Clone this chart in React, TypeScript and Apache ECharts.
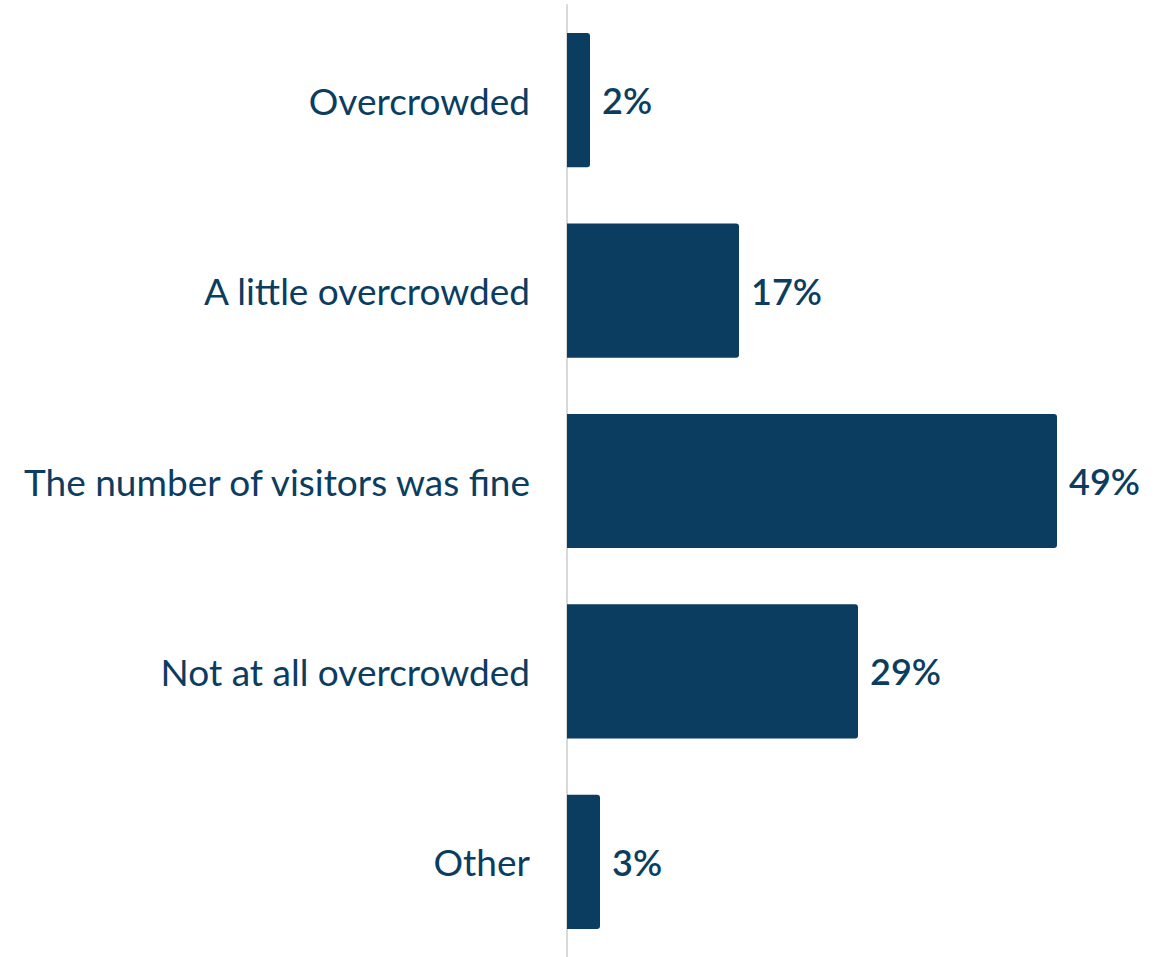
import React, { useEffect, useRef } from "react";
import * as echarts from "echarts";

const categories = [
  "Overcrowded",
  "A little overcrowded",
  "The number of visitors was fine",
  "Not at all overcrowded",
  "Other",
];
const values = [2.3, 17.2, 49, 29.1, 3.3];
const valueLabels = ["2%", "17%", "49%", "29%", "3%"];

const NAVY = "#0b3d61";
const FONT = "Lato";

export default function App() {
  const ref = useRef<HTMLDivElement>(null);
  useEffect(() => {
    const chart = echarts.init(ref.current!, null, { renderer: "svg" });
    chart.setOption({
      animation: false,
      grid: { left: 567, right: 48, top: 5, bottom: 0, containLabel: false },
      xAxis: {
        type: "value",
        min: 0,
        max: 55,
        show: false,
      },
      yAxis: {
        type: "category",
        data: categories,
        inverse: true,
        axisLine: { show: true, lineStyle: { color: "#d9d9d9", width: 2 } },
        axisTick: { show: false },
        axisLabel: {
          margin: 37,
          color: NAVY,
          fontFamily: FONT,
          fontSize: 37,
          fontWeight: 400,
        },
      },
      series: [
        {
          type: "bar",
          data: values,
          barWidth: "70.5%",
          itemStyle: { color: NAVY, borderRadius: [0, 3, 3, 0] },
          label: {
            show: true,
            position: "right",
            distance: 12,
            color: NAVY,
            fontFamily: FONT,
            fontSize: 36,
            fontWeight: 600,
            formatter: (p: any) => valueLabels[p.dataIndex],
          },
        },
      ],
    });
    return () => chart.dispose();
  }, []);
  return (
    <div
      ref={ref}
      style={{ position: "absolute", left: 0, top: 0, width: 1165, height: 957 }}
    />
  );
}
